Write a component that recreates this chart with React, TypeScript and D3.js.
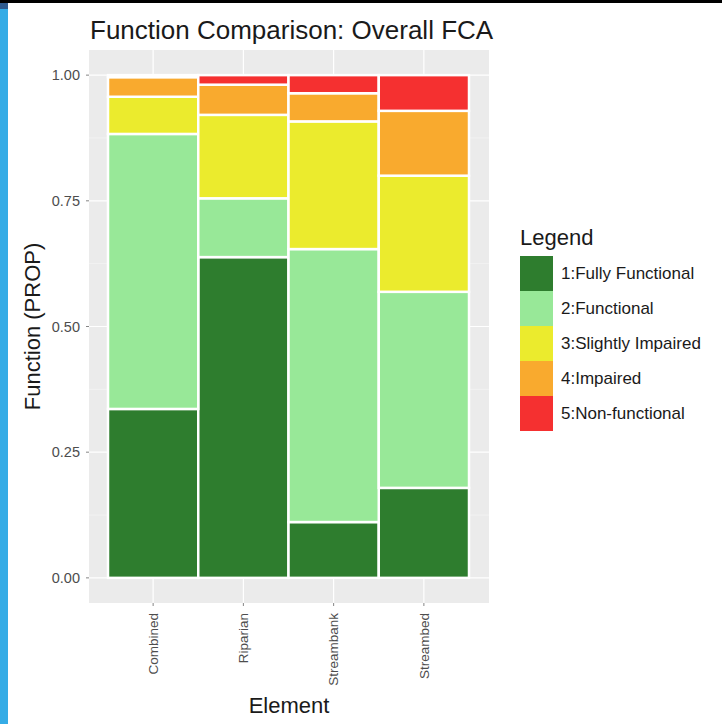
import React from "react";
import * as d3 from "d3";

const categories = ["Combined", "Riparian", "Streambank", "Streambed"];
const levels = ["1:Fully Functional", "2:Functional", "3:Slightly Impaired", "4:Impaired", "5:Non-functional"];
const fullyFunctional = [0.336, 0.638, 0.111, 0.179];
const functional = [0.547, 0.117, 0.543, 0.390];
const slightlyImpaired = [0.074, 0.166, 0.254, 0.231];
const impaired = [0.039, 0.060, 0.056, 0.129];
const nonFunctional = [0.004, 0.019, 0.036, 0.071];
const levelColors = ["#2e7d2e", "#98e898", "#ebeb2d", "#f9aa2e", "#f53030"];
const yTicks = [0, 0.25, 0.5, 0.75, 1];
const yTickLabels = ["0.00", "0.25", "0.50", "0.75", "1.00"];

const FONT = "'Liberation Sans', Arial, sans-serif";

export default function App() {
  const W = 722, H = 724;
  const pL = 89, pR = 489, pT = 50, pB = 603;
  const y = d3.scaleLinear().domain([-0.05, 1.05]).range([pB, pT]);
  const x = d3.scaleBand().domain(categories).range([108, 469]).padding(0);

  const series = [fullyFunctional, functional, slightlyImpaired, impaired, nonFunctional];
  const rows = categories.map((c, i) => {
    const o: any = { cat: c };
    levels.forEach((l, j) => (o[l] = series[j][i]));
    return o;
  });
  const stacked = d3.stack().keys(levels).offset(d3.stackOffsetExpand)(rows);

  const minor = [0.125, 0.375, 0.625, 0.875];

  return (
    <svg width={W} height={H} style={{ position: "absolute", left: 0, top: 0, background: "#fff" }} fontFamily={FONT}>
      <rect x={0} y={0} width={W} height={H} fill="#ffffff" />
      <rect x={0} y={0} width={W} height={3} fill="#000" />
      <rect x={0} y={3} width={8} height={H - 3} fill="#35ace6" />
      <rect x={0} y={3} width={8} height={6} fill="#2f5b8f" />

      <text x={90} y={39} fontSize={26} fill="#1a1a1a">Function Comparison: Overall FCA</text>

      <rect x={pL} y={pT} width={pR - pL} height={pB - pT} fill="#ebebeb" />
      {minor.map((t) => (
        <line key={"mn" + t} x1={pL} x2={pR} y1={y(t)} y2={y(t)} stroke="#f7f7f7" strokeWidth={0.6} />
      ))}
      {yTicks.map((t) => (
        <line key={"mj" + t} x1={pL} x2={pR} y1={y(t)} y2={y(t)} stroke="#ffffff" strokeWidth={1.2} />
      ))}
      {categories.map((c) => (
        <line key={"vx" + c} x1={x(c)! + x.bandwidth() / 2} x2={x(c)! + x.bandwidth() / 2} y1={pT} y2={pB} stroke="#ffffff" strokeWidth={1.2} />
      ))}

      {stacked.map((s, j) => (
        <g key={s.key} fill={levelColors[j]}>
          {s.map((d, i) => {
            const h = y(d[0]) - y(d[1]);
            return (
              <rect
                key={i}
                x={x(categories[i])}
                y={y(d[1])}
                width={x.bandwidth()}
                height={Math.max(0, h)}
                stroke="#ffffff"
                strokeWidth={2.5}
              />
            );
          })}
        </g>
      ))}

      {yTicks.map((t, i) => (
        <g key={"yt" + t}>
          <line x1={pL - 3} x2={pL} y1={y(t)} y2={y(t)} stroke="#333" strokeWidth={0.6} />
          <text x={pL - 9} y={y(t)} dy="0.35em" textAnchor="end" fontSize={14.5} fill="#4d4d4d">{yTickLabels[i]}</text>
        </g>
      ))}
      {categories.map((c) => {
        const cx = x(c)! + x.bandwidth() / 2;
        return (
          <g key={"xt" + c}>
            <line x1={cx} x2={cx} y1={pB} y2={pB + 3} stroke="#333" strokeWidth={0.6} />
            <text transform={`translate(${cx},${pB + 10}) rotate(-90)`} textAnchor="end" dy="0.35em" fontSize={13.5} fill="#4d4d4d">{c}</text>
          </g>
        );
      })}

      <text x={(pL + pR) / 2} y={713} textAnchor="middle" fontSize={22} fill="#1a1a1a">Element</text>
      <text transform={`translate(40,${(pT + pB) / 2}) rotate(-90)`} textAnchor="middle" fontSize={22} fill="#1a1a1a">Function (PROP)</text>

      <text x={520} y={245} fontSize={22} fill="#1a1a1a">Legend</text>
      {levels.map((l, j) => (
        <g key={"lg" + l}>
          <rect x={520} y={256 + j * 35} width={33} height={35} fill={levelColors[j]} />
          <text x={561} y={256 + j * 35 + 17.5} dy="0.35em" fontSize={17} fill="#1a1a1a">{l}</text>
        </g>
      ))}
    </svg>
  );
}
